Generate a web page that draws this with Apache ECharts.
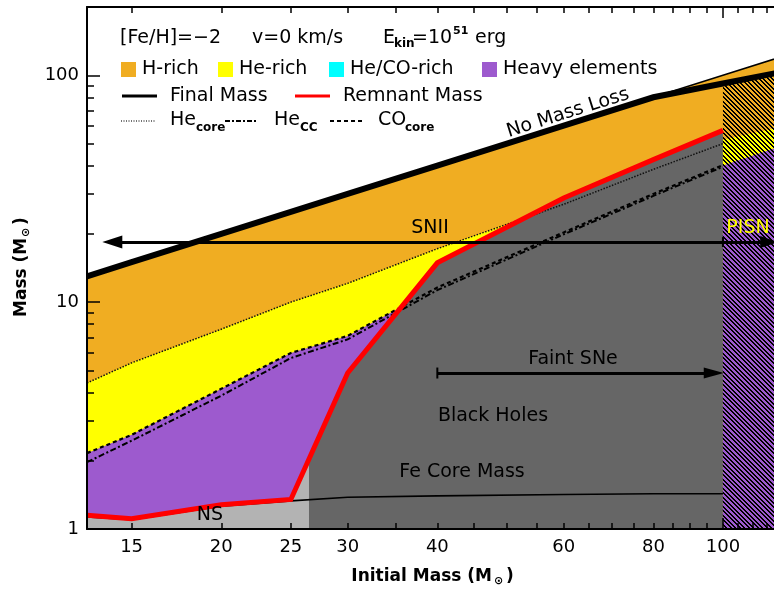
<!DOCTYPE html>
<html><head><meta charset="utf-8">
<script src="https://cdn.jsdelivr.net/npm/echarts@6/dist/echarts.min.js"></script>
<style>html,body{margin:0;padding:0;background:#fff}#c{width:774px;height:592px}</style>
</head><body><div id="c"></div>
<script>
// ---- data ----
const initialMass   = [13, 15, 20, 25, 30, 40, 60, 80, 100, 120];
const noMassLoss    = [13, 15, 20, 25, 30, 40, 60, 80, 100, 120];
const finalMass     = [13, 15, 20, 25, 30, 40, 60, 80, 92, 103];
const coreMassGrid  = [13, 15, 20, 25, 30, 40, 60, 80, 100];
const heCore        = [4.4, 5.4, 7.6, 10, 12.1, 17.2, 27, 38.5, 50];
const heCC          = [1.97, 2.45, 3.87, 5.67, 6.85, 11.3, 19.9, 29.4, 39.5];
const coCore        = [2.16, 2.6, 4.15, 5.97, 7.1, 11.6, 20.3, 30, 40.2];
const remnantMass   = [1.15, 1.11, 1.28, 1.35, 4.87, 14.9, 28.8, 42.5, 57.2];
const feCoreMass    = [1.13, 1.10, 1.26, 1.33, 1.38, 1.40, 1.42, 1.43, 1.43];
const nsEdgeMass    = [26.5];
const nsEdgeTop     = [2.0];
const pisnMass      = [100, 120];
const pisnHRich     = [92, 103];
const pisnHeRich    = [52, 59];
const pisnHeavy     = [40, 48.5];
const snIIArrow     = [100, 14.1, 18.4];   // from, to, level
const pisnArrow     = [100, 116, 18.4];
const faintArrow    = [40, 97.1, 4.87];
const xTickLabels   = [15, 20, 25, 30, 40, 60, 80, 100];
const xMinorTicks   = [15, 20, 25, 30, 35, 40, 45, 50, 55, 60, 65, 70, 75, 80, 85, 90, 95, 100, 105, 110, 115];
const xMajorTicks   = [100];
const yTickLabels   = [1, 10, 100];
const yMinorTicks   = [2, 3, 4, 5, 6, 7, 8, 9, 20, 30, 40, 50, 60, 70, 80, 90];
const yMajorTicks   = [10, 100];

// ---- styles ----
const ORANGE = '#F0AD22', YELLOW = '#FFFF00', CYAN = '#00FFFF', PURPLE = '#9D5ACE';
const DGRAY = '#666666', LGRAY = '#B3B3B3', RED = '#FF0000';
const FONT = 'DejaVu Sans';

function hatch(bg) {
  const c = document.createElement('canvas');
  c.width = 9; c.height = 9;
  const ctx = c.getContext('2d');
  ctx.fillStyle = bg; ctx.fillRect(0, 0, 9, 9);
  ctx.fillStyle = '#000';
  for (let y = 0; y < 9; y++) for (let x = 0; x < 9; x++) {
    const d = ((((x - y) * 2) % 9) + 9) % 9;
    if (d < 4) ctx.fillRect(x, y, 1, 1);
  }
  return { image: c, repeat: 'repeat' };
}
const pts = (xs, ys) => xs.map((x, i) => [x, ys[i]]);

function area(data, color, z) {
  return { type: 'line', data, symbol: 'none', showSymbol: false, silent: true, z: z || 2,
    lineStyle: { width: 0, opacity: 0 }, areaStyle: { color, opacity: 1, origin: 'start' } };
}
function line(data, color, width, type, z) {
  return { type: 'line', data, symbol: 'none', showSymbol: false, silent: true, z: z || 3,
    lineStyle: { color, width, type: type || 'solid', cap: 'butt', join: 'miter' } };
}

const nsX = coreMassGrid.slice(0, 4).concat(nsEdgeMass);
const nsY = remnantMass.slice(0, 4).concat(nsEdgeTop);

const xBase = { type: 'log', logBase: 10, min: 13, max: 117.8, gridIndex: 0, splitLine: { show: false }, z: 10 };
const yBase = { type: 'log', logBase: 10, min: 1, max: 200, gridIndex: 0, splitLine: { show: false }, z: 10 };
const axLine = { show: true, lineStyle: { color: '#000', width: 2 } };

const series = [
  Object.assign(area(pts(initialMass, noMassLoss), ORANGE, 1), { lineStyle: { color: '#000', width: 1.5 } }),
  area(pts(coreMassGrid, heCore), YELLOW, 2),
  area(pts(coreMassGrid, coCore), PURPLE, 2),
  area(pts(coreMassGrid.slice(3), remnantMass.slice(3)), DGRAY, 2),
  area(pts(nsX, nsY), LGRAY, 2),
  area(pts(pisnMass, pisnHRich), hatch(ORANGE), 2),
  area(pts(pisnMass, pisnHeRich), hatch(YELLOW), 2),
  area(pts(pisnMass, pisnHeavy), hatch(PURPLE), 2),
  line(pts(coreMassGrid, heCore), '#111', 1.5, [1.5, 1.5]),
  line(pts(coreMassGrid, heCC), '#000', 2, [6, 2.5, 2, 2.5]),
  line(pts(coreMassGrid, coCore), '#000', 2.2, [4, 3]),
  line(pts(coreMassGrid, feCoreMass), '#000', 1.6),
  line(pts(coreMassGrid, remnantMass), RED, 5, 'solid', 4),
  line(pts(initialMass, finalMass), '#000', 6, 'solid', 5),
  { type: 'line', data: [], silent: true, z: 6,
    markLine: { silent: true, animation: false, symbol: ['none', 'none'], label: { show: false },
      lineStyle: { color: '#000', width: 3, type: 'solid' },
      emphasis: { disabled: true },
      data: [
        [{ coord: [snIIArrow[0], snIIArrow[2]], symbol: 'none' },
         { coord: [snIIArrow[1], snIIArrow[2]], symbol: 'triangle', symbolSize: [13, 20] }],
        [{ coord: [pisnArrow[0], pisnArrow[2]], symbol: 'rect', symbolSize: [10, 2] },
         { coord: [pisnArrow[1], pisnArrow[2]], symbol: 'triangle', symbolSize: [12, 18] }],
        [{ coord: [faintArrow[0], faintArrow[2]], symbol: 'rect', symbolSize: [11, 2] },
         { coord: [faintArrow[1], faintArrow[2]], symbol: 'triangle', symbolSize: [11, 20] }]
      ] } }
];

function txt(x, y, s, size, extra, el) {
  return Object.assign({ type: 'text', x, y, z: 100, silent: true,
    style: Object.assign({ text: s, fontSize: size, fontFamily: FONT, fill: '#000',
      verticalAlign: 'middle', align: 'left' }, extra || {}) }, el || {});
}
function rect(x, y, w, h, fill) {
  return { type: 'rect', z: 100, silent: true, shape: { x, y, width: w, height: h }, style: { fill } };
}
function seg(x1, x2, y, stroke, w, dash) {
  return { type: 'line', z: 100, silent: true, shape: { x1, y1: y, x2, y2: y },
    style: { stroke, lineWidth: w, lineDash: dash || null } };
}
const SUB = { fontWeight: 'bold' };
const graphics = [
  txt(120, 38, '[Fe/H]=−2', 19), txt(252, 38, 'v=0 km/s', 19),
  txt(383, 38, 'E', 19), txt(394, 44, 'kin', 12, SUB), txt(412, 38, '=10', 19),
  txt(453, 31, '51', 11, SUB), txt(475, 38, 'erg', 19),
  rect(121, 62, 15, 15, ORANGE), txt(142, 69, 'H-rich', 19),
  rect(218, 62, 15, 15, YELLOW), txt(239, 69, 'He-rich', 19),
  rect(329, 62, 15, 15, CYAN), txt(350, 69, 'He/CO-rich', 19),
  rect(482, 62, 15, 15, PURPLE), txt(503, 69, 'Heavy elements', 19),
  seg(122, 157, 96, '#000', 3), txt(170, 96, 'Final Mass', 19),
  seg(295, 330, 96, RED, 3), txt(343, 96, 'Remnant Mass', 19),
  seg(121, 155, 121, '#444', 1.5, [1, 1.5]), txt(170, 120, 'He', 19), txt(196, 128, 'core', 12, SUB),
  seg(225, 258, 121, '#000', 2, [5, 2, 2, 2]), txt(274, 120, 'He', 19), txt(300, 128, 'CC', 12, SUB),
  seg(330, 363, 121, '#000', 2, [4, 3]), txt(378, 120, 'CO', 19), txt(405, 128, 'core', 12, SUB),
  // annotations
  txt(568, 113, 'No Mass Loss', 19, { align: 'center' }, { rotation: 0.306 }),
  txt(430, 228, 'SNII', 19, { align: 'center' }),
  txt(748, 228, 'PISN', 19, { align: 'center', fill: YELLOW }),
  txt(573, 359, 'Faint SNe', 19, { align: 'center' }),
  txt(493, 416, 'Black Holes', 19, { align: 'center' }),
  txt(462, 472, 'Fe Core Mass', 19, { align: 'center' }),
  txt(210, 515, 'NS', 19, { align: 'center' }),
  // axis titles
  txt(492, 577, 'Initial Mass (M', 17, { align: 'right', fontWeight: 'bold' }),
  txt(494, 581, '⊙', 11, { fontWeight: 'bold' }),
  txt(506, 577, ')', 17, { fontWeight: 'bold' }),
  { type: 'group', x: 22, y: 317, rotation: Math.PI / 2, z: 100, children: [
    txt(0, 0, 'Mass (M', 17, { fontWeight: 'bold' }),
    txt(80, 4, '⊙', 11, { fontWeight: 'bold' }),
    txt(92, 0, ')', 17, { fontWeight: 'bold' })
  ] }
];

const chart = echarts.init(document.getElementById('c'), null, { renderer: 'canvas' });
chart.setOption({
  animation: false,
  backgroundColor: '#fff',
  grid: { left: 87, top: 7, width: 687, height: 522, show: false },
  xAxis: [
    Object.assign({}, xBase, { position: 'bottom', offset: 0, axisLine: axLine,
      axisTick: { inside: true, length: 6, customValues: xMinorTicks, lineStyle: { color: '#000', width: 1.5 } },
      axisLabel: { customValues: xTickLabels, margin: 9, fontSize: 18, fontFamily: FONT, color: '#000' } }),
    Object.assign({}, xBase, { position: 'top', offset: 0, axisLine: axLine,
      axisTick: { inside: true, length: 6, customValues: xMinorTicks, lineStyle: { color: '#000', width: 1.5 } },
      axisLabel: { show: false } }),
    Object.assign({}, xBase, { position: 'bottom', offset: 0, axisLine: { show: false },
      axisTick: { inside: true, length: 11, customValues: xMajorTicks, lineStyle: { color: '#000', width: 1.5 } },
      axisLabel: { show: false } }),
    Object.assign({}, xBase, { position: 'top', offset: 0, axisLine: { show: false },
      axisTick: { inside: true, length: 11, customValues: xMajorTicks, lineStyle: { color: '#000', width: 1.5 } },
      axisLabel: { show: false } })
  ],
  yAxis: [
    Object.assign({}, yBase, { position: 'left', offset: 0, axisLine: axLine,
      axisTick: { inside: true, length: 7, customValues: yMinorTicks, lineStyle: { color: '#000', width: 1.5 } },
      axisLabel: { customValues: yTickLabels, margin: 8, fontSize: 18, fontFamily: FONT, color: '#000' } }),
    Object.assign({}, yBase, { position: 'left', offset: 0, axisLine: { show: false },
      axisTick: { inside: true, length: 13, customValues: yMajorTicks, lineStyle: { color: '#000', width: 1.5 } },
      axisLabel: { show: false } })
  ],
  series,
  graphic: graphics
});
</script></body></html>
